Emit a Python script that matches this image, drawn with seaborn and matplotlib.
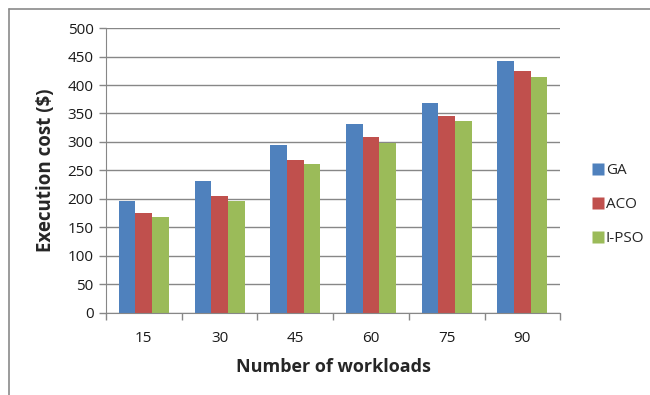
import pandas as pd
import matplotlib.pyplot as plt
import seaborn as sns
import numpy as np
from matplotlib.lines import Line2D

# Values
workloads = ["15", "30", "45", "60", "75", "90"]
ga = [197, 231, 294, 332, 368, 443]
aco = [176, 205, 268, 308, 346, 424]
ipso = [169, 197, 261, 299, 337, 414]
methods = ["GA", "ACO", "I-PSO"]
colors = ["#4F81BD", "#C0504D", "#9BBB59"]

df = pd.DataFrame({
    "Workloads": workloads * 3,
    "Method": np.repeat(methods, len(workloads)),
    "Cost": ga + aco + ipso,
})

sns.set_style("white")
plt.rcParams["font.family"] = ["Open Sans", "DejaVu Sans"]

fig = plt.figure(figsize=(6.5, 3.95), dpi=100)
ax = fig.add_axes([0.163, 0.208, 0.699, 0.721])

sns.barplot(data=df, x="Workloads", y="Cost", hue="Method", order=workloads,
            hue_order=methods, palette=colors, width=0.66, saturation=1,
            edgecolor="none", ax=ax, legend=True)

ax.set_ylim(0, 500)
ax.set_xlim(-0.5, len(workloads) - 0.5)
ax.set_yticks(range(0, 501, 50))
ax.yaxis.grid(True, color="#878787", linewidth=1)
ax.set_axisbelow(True)

for side in ["top", "right"]:
    ax.spines[side].set_visible(False)
ax.spines["left"].set_color("#878787")
ax.spines["bottom"].set_color("#878787")

# Excel style ticks: between categories on x, outside on y
ax.set_xticks(np.arange(-0.5, len(workloads)), minor=True)
ax.tick_params(axis="x", which="major", length=0, pad=13, labelsize=11, colors="#1a1a1a")
ax.tick_params(axis="x", which="minor", length=5, color="#878787", width=1, direction="out")
ax.tick_params(axis="y", length=5, color="#878787", width=1, direction="out",
               labelsize=11, colors="#1a1a1a", pad=4)
ax.tick_params(axis="x", bottom=True, which="both")
ax.tick_params(axis="y", left=True)

ax.set_xlabel("Number of workloads", fontsize=13, fontweight="bold", labelpad=9)
ax.set_ylabel("Execution cost ($)", fontsize=13.5, fontweight="bold", labelpad=8)

handles = [Line2D([], [], marker="s", linestyle="none", markersize=8,
                  markerfacecolor=c, markeredgecolor="none") for c in colors]
ax.legend(handles, methods, loc="center left", bbox_to_anchor=(1.035, 0.38),
          frameon=False, fontsize=11, handletextpad=0.05, labelspacing=1.25,
          handlelength=1.0)

# frame lines on the left and top of the image
fig.add_artist(Line2D([8.5 / 650, 8.5 / 650], [0, 1 - 8.5 / 395], color="#8a8a8a", lw=1.2))
fig.add_artist(Line2D([8.5 / 650, 1], [1 - 8.5 / 395, 1 - 8.5 / 395], color="#8a8a8a", lw=1.2))

fig.savefig("out.png", dpi=100)
